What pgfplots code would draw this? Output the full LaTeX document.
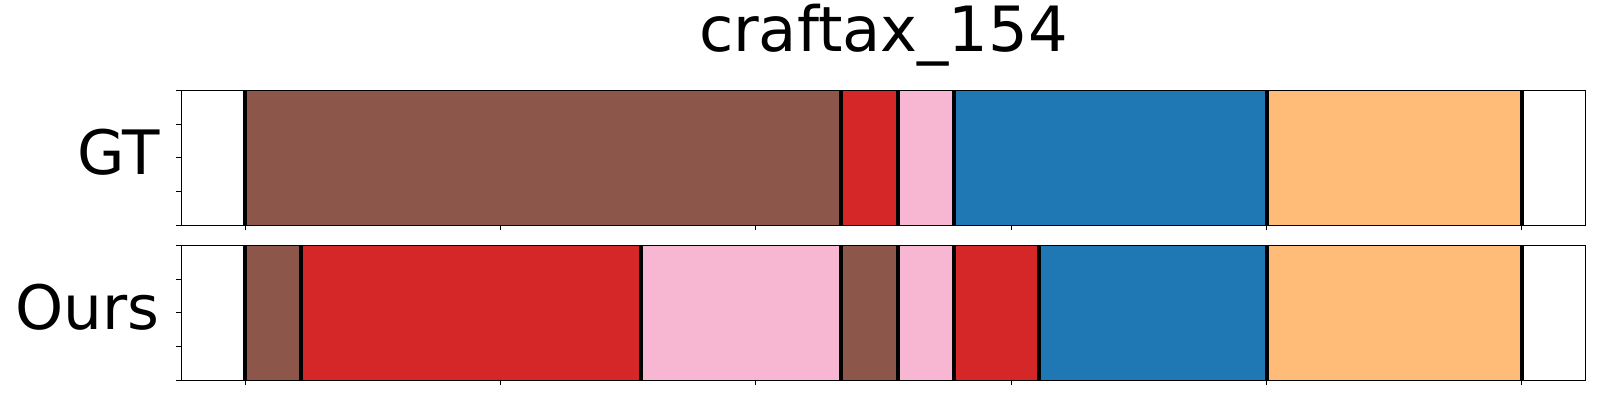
\documentclass[border=0pt]{standalone}
\usepackage{fontspec}
\setmainfont{DejaVu Sans}
\usepackage{pgfplots}
\pgfplotsset{compat=1.18}
\definecolor{cbrown}{HTML}{8C564B}
\definecolor{cred}{HTML}{D62728}
\definecolor{cpink}{HTML}{F7B6D2}
\definecolor{cblue}{HTML}{1F77B4}
\definecolor{corange}{HTML}{FFBB78}
\pgfplotsset{
  segaxis/.style={
    scale only axis, width=702.2pt, height=67.5pt,
    xmin=-50, xmax=1050, ymin=0, ymax=1,
    xtick={0,200,400,600,800,1000}, xticklabels={},
    ytick={0,0.25,0.5,0.75,1}, yticklabels={},
    tick align=outside, major tick length=2.5pt,
    tick style={black, line width=0.5pt},
    xtick pos=bottom, ytick pos=left,
    axis line style={black, line width=0.6pt},
    axis on top,
    ylabel style={rotate=-90, at={(axis description cs:0,0.5)}, anchor=east, inner sep=0pt, xshift=-10.6pt, yshift=2.8pt, font=\fontsize{30.6}{36}\selectfont},
    clip=true,
  },
  seg/.style={draw=none, fill=#1},
  sep/.style={ycomb, black, line width=2pt, mark=none},
}
\begin{document}
\begin{tikzpicture}
\path[use as bounding box] (0,0) rectangle (800pt,-200pt);
% GT
\begin{axis}[segaxis, anchor=north west, at={(90.65pt,-45.15pt)},
  ylabel={GT},
  title={craftax\_154},
  title style={at={(0.5,1)}, anchor=base, inner sep=0pt, yshift=13.5pt, font=\fontsize{31.2}{36}\selectfont}]
\addplot[seg=cbrown]  coordinates {(0,1) (467,1)} \closedcycle;
\addplot[seg=cred]    coordinates {(467,1) (511,1)} \closedcycle;
\addplot[seg=cpink]   coordinates {(511,1) (555,1)} \closedcycle;
\addplot[seg=cblue]   coordinates {(555,1) (800,1)} \closedcycle;
\addplot[seg=corange] coordinates {(800,1) (1000,1)} \closedcycle;
\addplot[sep] coordinates {(0,1) (467,1) (511,1) (555,1) (800,1) (1000,1)};
\end{axis}
% Ours
\begin{axis}[segaxis, anchor=north west, at={(90.65pt,-122.65pt)},
  ylabel={Ours}]
\addplot[seg=cbrown]  coordinates {(0,1) (44,1)} \closedcycle;
\addplot[seg=cred]    coordinates {(44,1) (310,1)} \closedcycle;
\addplot[seg=cpink]   coordinates {(310,1) (467,1)} \closedcycle;
\addplot[seg=cbrown]  coordinates {(467,1) (511,1)} \closedcycle;
\addplot[seg=cpink]   coordinates {(511,1) (555,1)} \closedcycle;
\addplot[seg=cred]    coordinates {(555,1) (622,1)} \closedcycle;
\addplot[seg=cblue]   coordinates {(622,1) (800,1)} \closedcycle;
\addplot[seg=corange] coordinates {(800,1) (1000,1)} \closedcycle;
\addplot[sep] coordinates {(0,1) (44,1) (310,1) (467,1) (511,1) (555,1) (622,1) (800,1) (1000,1)};
\end{axis}
\end{tikzpicture}
\end{document}
